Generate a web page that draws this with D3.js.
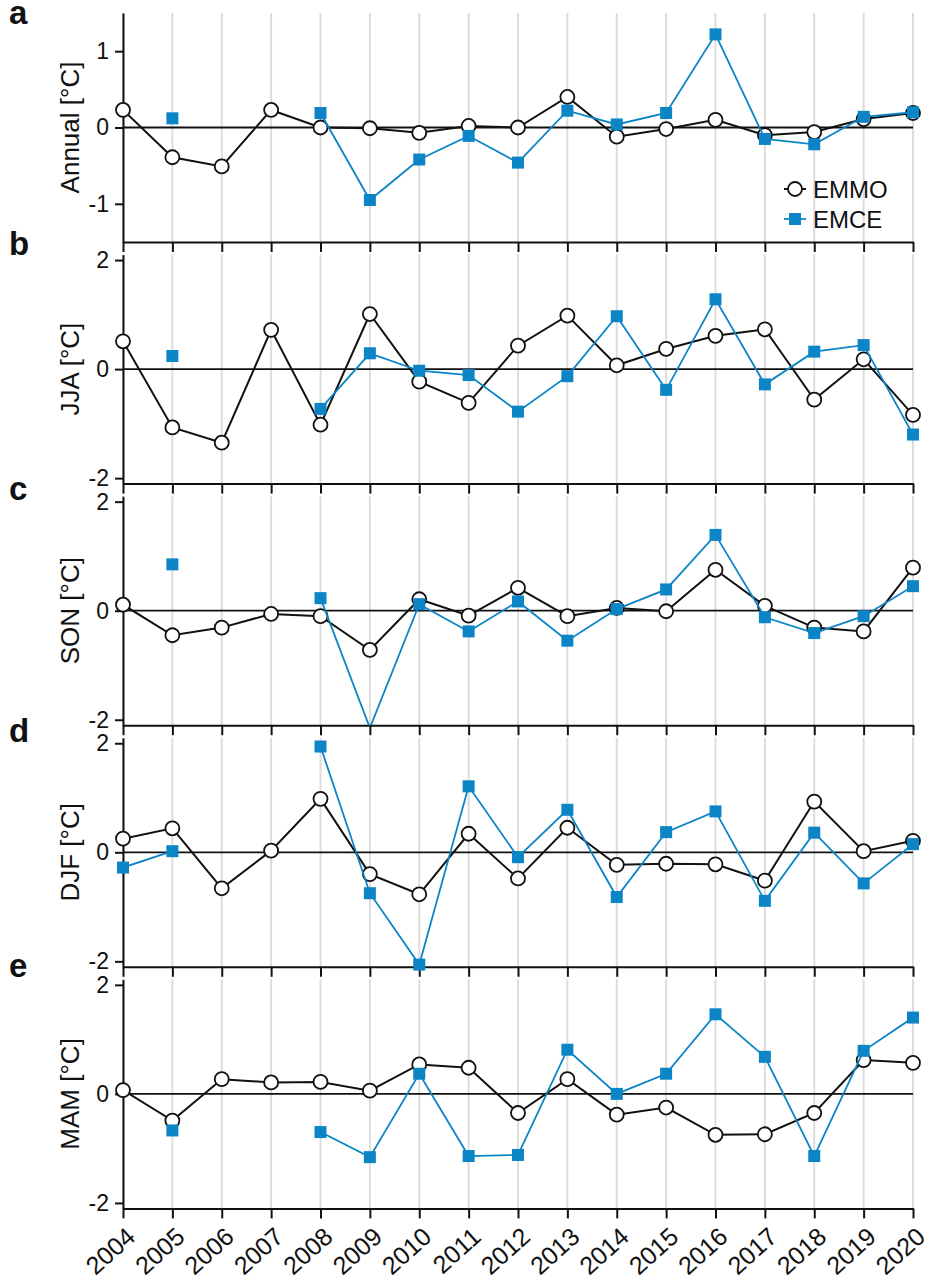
<!DOCTYPE html>
<html>
<head>
<meta charset="utf-8">
<script src="https://cdn.jsdelivr.net/npm/d3@7"></script>
<style>
  body { margin: 0; background: #fff; }
  text { font-family: "Liberation Sans", Arial, Helvetica, sans-serif; fill: #111; }
</style>
</head>
<body>
<svg id="chart" width="930" height="1282"></svg>
<script>
// years on the shared x axis
const years = [2004, 2005, 2006, 2007, 2008, 2009, 2010, 2011, 2012, 2013, 2014, 2015, 2016, 2017, 2018, 2019, 2020];

// anomalies (null = no value)
const annualEMMO = [0.23, -0.39, -0.51, 0.23, 0.00, -0.01, -0.07, 0.02, 0.00, 0.40, -0.12, -0.02, 0.10, -0.10, -0.06, 0.11, 0.19];
const annualEMCE = [null, 0.12, null, null, 0.19, -0.95, -0.42, -0.11, -0.46, 0.22, 0.04, 0.19, 1.22, -0.15, -0.22, 0.14, 0.20];
const jjaEMMO = [0.51, -1.07, -1.35, 0.72, -1.02, 1.01, -0.23, -0.62, 0.43, 0.98, 0.07, 0.37, 0.61, 0.73, -0.56, 0.18, -0.84];
const jjaEMCE = [null, 0.24, null, null, -0.73, 0.29, -0.03, -0.11, -0.78, -0.13, 0.97, -0.38, 1.28, -0.28, 0.32, 0.44, -1.20];
const sonEMMO = [0.11, -0.45, -0.31, -0.06, -0.10, -0.72, 0.21, -0.09, 0.42, -0.10, 0.05, -0.01, 0.75, 0.09, -0.31, -0.38, 0.79];
const sonEMCE = [null, 0.85, null, null, 0.23, -2.15, 0.12, -0.38, 0.17, -0.55, 0.03, 0.39, 1.39, -0.12, -0.41, -0.10, 0.45];
const djfEMMO = [0.25, 0.44, -0.66, 0.03, 0.98, -0.40, -0.77, 0.34, -0.48, 0.45, -0.23, -0.21, -0.22, -0.52, 0.93, 0.02, 0.21];
const djfEMCE = [-0.28, 0.02, null, null, 1.94, -0.75, -2.06, 1.21, -0.09, 0.78, -0.82, 0.37, 0.75, -0.89, 0.36, -0.57, 0.15];
const mamEMMO = [0.07, -0.49, 0.27, 0.21, 0.22, 0.06, 0.54, 0.48, -0.35, 0.27, -0.38, -0.25, -0.75, -0.74, -0.35, 0.62, 0.57];
const mamEMCE = [null, -0.67, null, null, -0.70, -1.16, 0.37, -1.14, -1.12, 0.81, 0.00, 0.37, 1.46, 0.68, -1.14, 0.79, 1.40];

const panelLetters = ["a", "b", "c", "d", "e"];
const panelLabels = ["Annual [°C]", "JJA [°C]", "SON [°C]", "DJF [°C]", "MAM [°C]"];
const panelLimits = [1.5, 2.1, 2.1, 2.1, 2.1];
const panelTicks = [[-1, 0, 1], [-2, 0, 2], [-2, 0, 2], [-2, 0, 2], [-2, 0, 2]];
const seriesNames = ["EMMO", "EMCE"];

const emmoSets = [annualEMMO, jjaEMMO, sonEMMO, djfEMMO, mamEMMO];
const emceSets = [annualEMCE, jjaEMCE, sonEMCE, djfEMCE, mamEMCE];

const blue = "#0b85c6";
const left = 123, right = 913;
const plotTop = 13, plotH = 229, panelStep = 241.6;
const letterY = [24, 255, 500, 742, 977];

const svg = d3.select("#chart");

const x = d3.scaleLinear().domain([2004, 2020]).range([left, right]);

panelLetters.forEach((letter, i) => {
    const top = plotTop + i * panelStep;
    const bottom = top + plotH;
    const lim = panelLimits[i];
    const y = d3.scaleLinear().domain([-lim, lim]).range([bottom, top]);

    const g = svg.append("g");

    // clip for lines going off the panel
    svg.append("clipPath")
        .attr("id", "clip" + i)
        .append("rect")
        .attr("x", left)
        .attr("y", top)
        .attr("width", right - left)
        .attr("height", plotH);

    // grey year gridlines
    g.append("g")
        .selectAll("line")
        .data(years)
        .join("line")
        .attr("x1", d => x(d))
        .attr("x2", d => x(d))
        .attr("y1", top)
        .attr("y2", bottom)
        .attr("stroke", "#dcdcdc")
        .attr("stroke-width", 2);

    // zero line
    g.append("line")
        .attr("x1", left)
        .attr("x2", right)
        .attr("y1", y(0))
        .attr("y2", y(0))
        .attr("stroke", "#111")
        .attr("stroke-width", 1.8);

    // x axis at the bottom of every panel
    const xAxis = d3.axisBottom(x)
        .tickValues(years)
        .tickSize(10)
        .tickSizeOuter(0)
        .tickFormat("");
    const xg = g.append("g")
        .attr("transform", `translate(0,${bottom})`)
        .call(xAxis);
    xg.select(".domain").attr("stroke", "#111").attr("stroke-width", 2);
    xg.selectAll(".tick line").attr("stroke", "#111").attr("stroke-width", 2);

    // y axis
    const yAxis = d3.axisLeft(y)
        .tickValues(panelTicks[i])
        .tickSize(8)
        .tickSizeOuter(0)
        .tickPadding(6)
        .tickFormat(d => String(d));
    const yg = g.append("g")
        .attr("transform", `translate(${left},0)`)
        .call(yAxis);
    yg.select(".domain").attr("stroke", "#111").attr("stroke-width", 2);
    yg.selectAll(".tick line").attr("stroke", "#111").attr("stroke-width", 2);
    yg.selectAll(".tick text")
        .attr("font-size", 23)
        .attr("fill", "#111")
        .style("font-family", "'Liberation Sans', Arial, sans-serif");

    // y label
    g.append("text")
        .attr("transform", `translate(79,${(top + bottom) / 2}) rotate(-90)`)
        .attr("text-anchor", "middle")
        .attr("font-size", 26)
        .text(panelLabels[i]);

    // panel letter
    g.append("text")
        .attr("x", 9)
        .attr("y", letterY[i])
        .attr("font-size", 33)
        .attr("font-weight", "bold")
        .text(letter);

    const line = d3.line()
        .defined(d => d.v != null)
        .x(d => x(d.year))
        .y(d => y(d.v));

    const emmo = years.map((year, k) => ({ year, v: emmoSets[i][k] }));
    const emce = years.map((year, k) => ({ year, v: emceSets[i][k] }));

    // EMMO: black line, open circles
    g.append("path")
        .datum(emmo)
        .attr("clip-path", `url(#clip${i})`)
        .attr("d", line)
        .attr("fill", "none")
        .attr("stroke", "#111")
        .attr("stroke-width", 2);

    g.append("g")
        .selectAll("circle")
        .data(emmo.filter(d => d.v != null && Math.abs(d.v) <= lim))
        .join("circle")
        .attr("cx", d => x(d.year))
        .attr("cy", d => y(d.v))
        .attr("r", 7)
        .attr("fill", "#fff")
        .attr("stroke", "#111")
        .attr("stroke-width", 1.8);

    // EMCE: blue line, filled squares
    g.append("path")
        .datum(emce)
        .attr("clip-path", `url(#clip${i})`)
        .attr("d", line)
        .attr("fill", "none")
        .attr("stroke", blue)
        .attr("stroke-width", 1.8);

    g.append("g")
        .selectAll("rect")
        .data(emce.filter(d => d.v != null && Math.abs(d.v) <= lim))
        .join("rect")
        .attr("x", d => x(d.year) - 6)
        .attr("y", d => y(d.v) - 6)
        .attr("width", 12)
        .attr("height", 12)
        .attr("fill", blue);

    // year labels only under the last panel
    if (i === panelLetters.length - 1) {
        g.append("g")
            .selectAll("text")
            .data(years)
            .join("text")
            .attr("transform", d => `translate(${x(d) + 8},${bottom + 24}) rotate(-42)`)
            .attr("text-anchor", "end")
            .attr("dy", "0.35em")
            .attr("font-size", 25)
            .text(d => d);
    }
});

// legend inside panel a
const legend = svg.append("g").attr("transform", "translate(784,189)");
seriesNames.forEach((name, k) => {
    const row = legend.append("g").attr("transform", `translate(0,${k * 30})`);
    row.append("line")
        .attr("x1", 0).attr("x2", 22)
        .attr("y1", 0).attr("y2", 0)
        .attr("stroke", k === 0 ? "#111" : blue)
        .attr("stroke-width", k === 0 ? 2 : 1.8);
    if (k === 0) {
        row.append("circle")
            .attr("cx", 11).attr("cy", 0).attr("r", 7)
            .attr("fill", "#fff").attr("stroke", "#111").attr("stroke-width", 1.8);
    } else {
        row.append("rect")
            .attr("x", 5).attr("y", -6).attr("width", 12).attr("height", 12)
            .attr("fill", blue);
    }
    row.append("text")
        .attr("x", 29)
        .attr("y", 8.5)
        .attr("font-size", 24)
        .text(name);
});
</script>
</body>
</html>
